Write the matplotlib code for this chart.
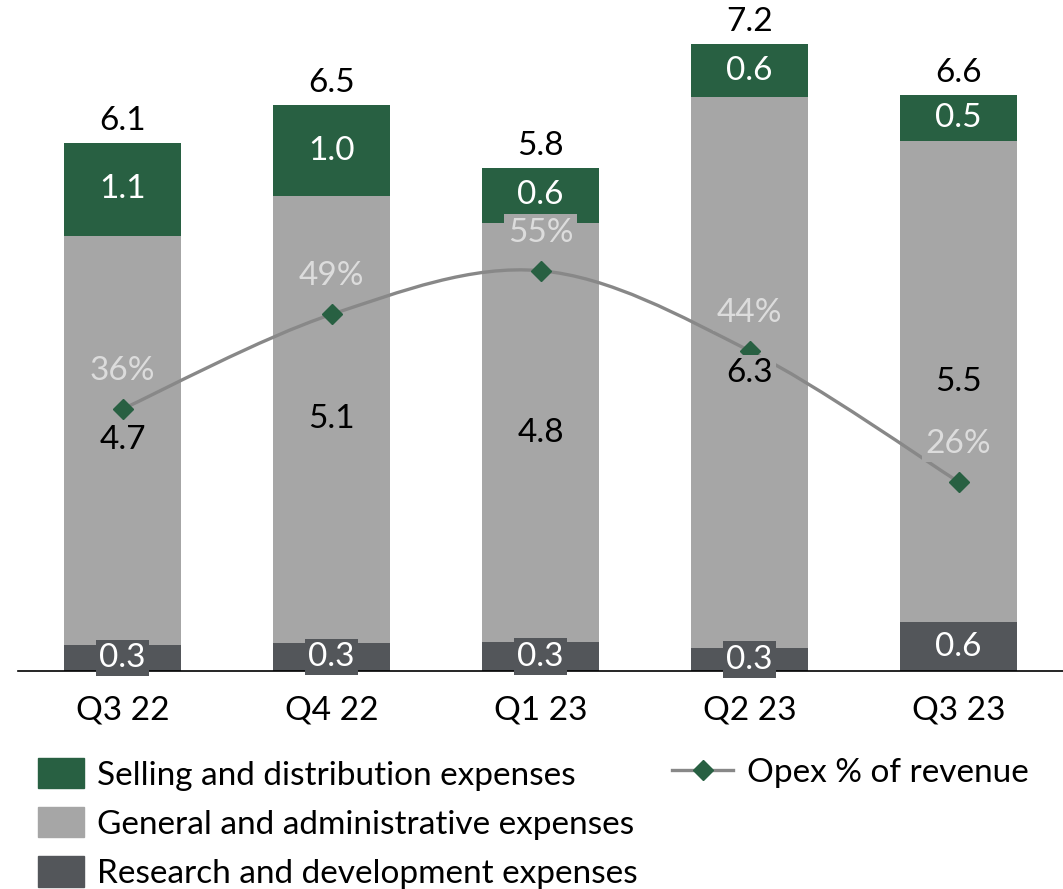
import matplotlib.pyplot as plt
from matplotlib.path import Path
from matplotlib.patches import PathPatch, Patch
from matplotlib.lines import Line2D
import numpy as np

plt.rcParams['font.family'] = ['Lato', 'DejaVu Sans']

# data (EUR m)
quarters = ["Q3 22", "Q4 22", "Q1 23", "Q2 23", "Q3 23"]
rnd = [0.30, 0.32, 0.33, 0.26, 0.56]
gna = [4.70, 5.14, 4.82, 6.33, 5.53]
snd = [1.07, 1.04, 0.63, 0.61, 0.53]
opex_pct = [36, 49, 55, 44, 26]

c_snd = '#286042'
c_gna = '#a6a6a6'
c_rnd = '#53565a'
c_line = '#888888'
c_pct = '#dcdcdc'
fs = 24

W, H = 1063, 889
fig = plt.figure(figsize=(W / 100, H / 100), dpi=100)
ax = fig.add_axes([18 / W, 1 - 671 / H, 1 - 18 / W, 671 / H])
ax2 = ax.twinx()

x = np.arange(len(quarters))
bw = 0.556
rnd_a = np.array(rnd)
gna_a = np.array(gna)
snd_a = np.array(snd)
ax.bar(x, rnd_a, bw, color=c_rnd, zorder=2)
ax.bar(x, gna_a, bw, bottom=rnd_a, color=c_gna, zorder=2)
ax.bar(x, snd_a, bw, bottom=rnd_a + gna_a, color=c_snd, zorder=2)

ax.set_xlim(-0.5, 4.5)
ax.set_ylim(0, 7.71)
ax2.set_ylim(0, 92.2)

for a in (ax, ax2):
    for s in ['top', 'left', 'right']:
        a.spines[s].set_visible(False)
    a.set_yticks([])
ax2.spines['bottom'].set_visible(False)
ax.spines['bottom'].set_linewidth(1.2)
ax.spines['bottom'].set_color('black')
ax.set_xticks(x)
ax.set_xticklabels(quarters, fontsize=fs)
ax.tick_params(axis='x', length=0, pad=18)

# smoothed opex line (catmull-rom -> bezier)
pts = list(zip(x, opex_pct))
verts = [pts[0]]
codes = [Path.MOVETO]
for i in range(len(pts) - 1):
    p0 = np.array(pts[max(i - 1, 0)], float)
    p1 = np.array(pts[i], float)
    p2 = np.array(pts[i + 1], float)
    p3 = np.array(pts[min(i + 2, len(pts) - 1)], float)
    verts += [tuple(p1 + (p2 - p0) / 6), tuple(p2 - (p3 - p1) / 6), tuple(p2)]
    codes += [Path.CURVE4] * 3
ax2.add_patch(PathPatch(Path(verts, codes), fc='none', ec=c_line, lw=2.4, zorder=3))
ax2.plot(x, opex_pct, 'D', color=c_snd, ms=10, zorder=4)

# segment labels (drawn on ax2 so their boxes sit over the line)
for i in range(len(x)):
    ax2.text(x[i], rnd[i] / 2, f"{rnd[i]:.1f}", transform=ax.transData, ha='center', va='center',
             fontsize=fs, color='white', zorder=5,
             bbox=dict(boxstyle='square,pad=0.1', fc=c_rnd, ec='none'))
    ax2.text(x[i], rnd[i] + gna[i] / 2, f"{gna[i]:.1f}", transform=ax.transData, ha='center', va='center',
             fontsize=fs, color='black', zorder=5,
             bbox=dict(boxstyle='square,pad=0.1', fc=c_gna, ec='none'))
    ax2.text(x[i], rnd[i] + gna[i] + snd[i] / 2, f"{snd[i]:.1f}", transform=ax.transData, ha='center',
             va='center', fontsize=fs, color='white', zorder=5,
             bbox=dict(boxstyle='square,pad=0.1', fc=c_snd, ec='none'))
    total = rnd[i] + gna[i] + snd[i]
    ax.annotate(f"{total:.1f}", (x[i], total), xytext=(0, 16), textcoords='offset points',
                ha='center', va='center', fontsize=fs, color='black')
    ax2.annotate(f"{opex_pct[i]}%", (x[i], opex_pct[i]), xytext=(0, 27.5), textcoords='offset points',
                 ha='center', va='center', fontsize=fs, color=c_pct, zorder=6,
                 bbox=dict(boxstyle='square,pad=0.1', fc=c_gna, ec='none'))

# legends
bar_handles = [Patch(color=c_snd), Patch(color=c_gna), Patch(color=c_rnd)]
bar_labels = ["Selling and distribution expenses", "General and administrative expenses",
              "Research and development expenses"]
fig.legend(bar_handles, bar_labels, loc='upper left', bbox_to_anchor=(38 / W, 1 - 758 / H),
           frameon=False, fontsize=fs, handlelength=1.38, handleheight=1.02, handletextpad=0.4,
           labelspacing=0.5, borderpad=0, borderaxespad=0)
line_handle = Line2D([], [], color=c_line, lw=2.4, marker='D', ms=10, mfc=c_snd, mec=c_snd)
fig.legend([line_handle], ["Opex % of revenue"], loc='upper left', bbox_to_anchor=(672 / W, 1 - 758 / H),
           frameon=False, fontsize=fs, handlelength=1.83, handletextpad=0.42, borderpad=0, borderaxespad=0)

fig.savefig('out.png', dpi=100)
